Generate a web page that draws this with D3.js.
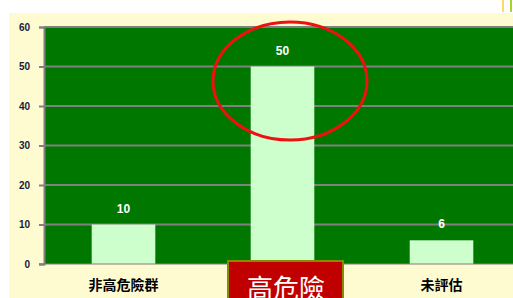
<!DOCTYPE html>
<html>
<head>
<meta charset="utf-8">
<script src="https://cdn.jsdelivr.net/npm/d3@7"></script>
<style>
  body { margin: 0; background: #ffffff; }
  svg { display: block; }
</style>
</head>
<body>
<script>
// Data
var categories = ["非高危險群", "高危險群", "未評估"];
var values = [10, 50, 6];
var yTicks = [0, 10, 20, 30, 40, 50, 60];

// Width and height
var w = 513;
var h = 298;

var svg = d3.select("body")
            .append("svg")
            .attr("width", w)
            .attr("height", h);

// cream chart area
svg.append("rect")
   .attr("x", 9).attr("y", 13)
   .attr("width", w - 9).attr("height", h - 13)
   .style("fill", "#fffbd0");

// little marks at top right
svg.append("rect").attr("x", 502).attr("y", 0).attr("width", 2).attr("height", 12).style("fill", "#ffd966");
svg.append("rect").attr("x", 510).attr("y", 0).attr("width", 2).attr("height", 12).style("fill", "#a9d22a");

// plot box (not named "top": that one belongs to window)
var pLeft = 44, pRight = 521, pTop = 27, pBottom = 264;

var x = d3.scaleBand()
          .domain(categories)
          .range([pLeft, pRight])
          .paddingInner(0.6)
          .paddingOuter(0.3);

var y = d3.scaleLinear()
          .domain([0, 60])
          .range([pBottom, pTop]);

// plot background
svg.append("rect")
   .attr("x", pLeft).attr("y", pTop)
   .attr("width", pRight - pLeft).attr("height", pBottom - pTop)
   .style("fill", "#007800");

// gridlines
svg.selectAll("line.grid")
   .data(yTicks.filter(function(d){ return d > 0; }))
   .enter()
   .append("line")
   .attr("class", "grid")
   .attr("x1", pLeft).attr("x2", pRight)
   .attr("y1", function(d){ return y(d); })
   .attr("y2", function(d){ return y(d); })
   .style("stroke", "#808080")
   .style("stroke-width", 2);

// bars
svg.selectAll("rect.bar")
   .data(values)
   .enter()
   .append("rect")
   .attr("class", "bar")
   .attr("x", function(d, i){ return x(categories[i]); })
   .attr("width", x.bandwidth())
   .attr("y", function(d){ return y(d); })
   .attr("height", function(d){ return pBottom - y(d); })
   .style("fill", "#ccffcc");

// value labels
svg.selectAll("text.val")
   .data(values)
   .enter()
   .append("text")
   .attr("class", "val")
   .attr("x", function(d, i){ return x(categories[i]) + x.bandwidth() / 2; })
   .attr("y", function(d){ return y(d) - 12; })
   .attr("text-anchor", "middle")
   .style("font-family", "Liberation Sans, Arial, sans-serif")
   .style("font-weight", "bold")
   .style("font-size", "12px")
   .style("fill", "#ffffff")
   .text(function(d){ return d; });

// y axis
var yAxis = d3.axisLeft(y).tickValues(yTicks).tickSize(5).tickPadding(9);
var gy = svg.append("g")
            .attr("transform", "translate(" + pLeft + ",0)")
            .call(yAxis);
gy.select(".domain").style("stroke", "#808080").style("stroke-width", 2);
gy.selectAll(".tick line").style("stroke", "#808080").style("stroke-width", 2);
gy.selectAll(".tick text")
  .style("font-family", "Liberation Sans, Arial, sans-serif")
  .style("font-weight", "bold")
  .style("font-size", "10px")
  .style("fill", "#1a1a40");

// x axis baseline
svg.append("line")
   .attr("x1", pLeft - 5).attr("x2", pRight)
   .attr("y1", pBottom).attr("y2", pBottom)
   .style("stroke", "#808080")
   .style("stroke-width", 1);

// category labels (the middle one sits under the callout box)
svg.selectAll("text.cat")
   .data(categories)
   .enter()
   .append("text")
   .attr("class", "cat")
   .attr("x", function(d){ return x(d) + x.bandwidth() / 2; })
   .attr("y", 290)
   .attr("text-anchor", "middle")
   .style("font-family", "Noto Sans CJK TC, sans-serif")
   .style("font-weight", "bold")
   .style("font-size", "14px")
   .style("fill", "#000000")
   .text(function(d){ return d; });

// highlight ellipse
svg.append("ellipse")
   .attr("cx", 290).attr("cy", 81)
   .attr("rx", 77).attr("ry", 59)
   .style("fill", "none")
   .style("stroke", "#ee1111")
   .style("stroke-width", 3);

// callout box
svg.append("rect")
   .attr("x", 228).attr("y", 261)
   .attr("width", 115).attr("height", 45)
   .style("fill", "#c00000")
   .style("stroke", "#8a8a00")
   .style("stroke-width", 2);

svg.append("text")
   .attr("x", 286).attr("y", 298)
   .attr("text-anchor", "middle")
   .style("font-family", "Noto Sans CJK TC, sans-serif")
   .style("font-size", "26px")
   .style("fill", "#ffffff")
   .text("高危險");
</script>
</body>
</html>
